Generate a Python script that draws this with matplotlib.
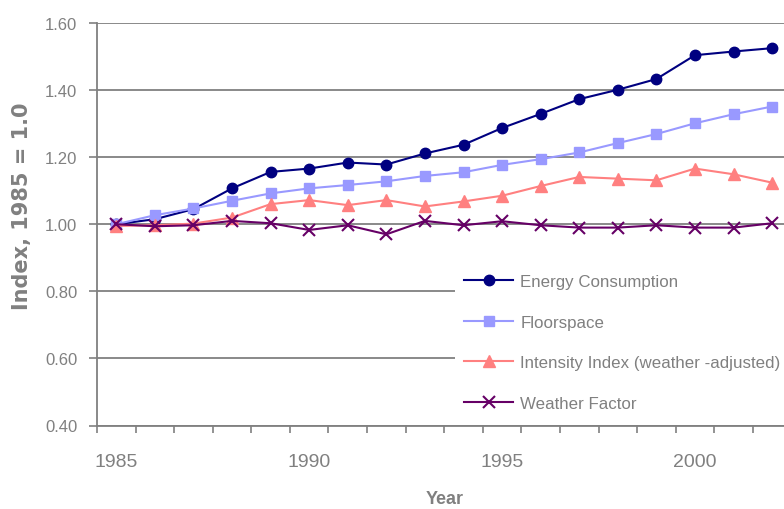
import numpy as np
import matplotlib
matplotlib.use("Agg")
import matplotlib.pyplot as plt

years = list(range(1985, 2003))

energy = [1.000, 1.015, 1.045, 1.107, 1.156, 1.166, 1.184, 1.178, 1.211, 1.237,
          1.287, 1.329, 1.373, 1.401, 1.433, 1.504, 1.515, 1.525]
floorspace = [1.000, 1.027, 1.047, 1.070, 1.092, 1.107, 1.117, 1.128, 1.144, 1.155,
              1.177, 1.194, 1.214, 1.242, 1.269, 1.301, 1.328, 1.351]
intensity = [0.995, 0.997, 1.002, 1.020, 1.060, 1.072, 1.057, 1.072, 1.053, 1.068,
             1.085, 1.114, 1.141, 1.136, 1.131, 1.166, 1.149, 1.124]
weather = [1.000, 0.994, 0.997, 1.010, 1.003, 0.983, 0.997, 0.970, 1.010, 0.997,
           1.009, 0.997, 0.990, 0.990, 0.997, 0.990, 0.990, 1.003]

y_ticks = [0.40, 0.60, 0.80, 1.00, 1.20, 1.40, 1.60]
x_labels = [1985, 1990, 1995, 2000]

GRAY = "#808080"
plt.rcParams["font.family"] = ["Liberation Sans", "DejaVu Sans"]

W, H = 784, 510
fig = plt.figure(figsize=(W / 100, H / 100), dpi=100)

# axes runs past the right edge of the picture (the reference is cropped)
left_px, right_px, top_px, bottom_px = 97, 830, 24, 426.5
ax = fig.add_axes([left_px / W, 1 - bottom_px / H,
                   (right_px - left_px) / W, (bottom_px - top_px) / H])

ax.plot(years, energy, color="#000080", lw=1.5, marker="o", ms=7.5,
        label="Energy Consumption")
ax.plot(years, floorspace, color="#9999FF", lw=1.5, marker="s", ms=6.5,
        label="Floorspace")
ax.plot(years, intensity, color="#FF8080", lw=1.5, marker="^", ms=8,
        label="Intensity Index (weather -adjusted)")
ax.plot(years, weather, color="#660066", lw=1.5, marker="x", ms=8, mew=1.5,
        label="Weather Factor")

ax.set_xlim(1984.5, 2003.5)
ax.set_ylim(0.40, 1.60)

ax.set_yticks(y_ticks)
ax.set_yticklabels([f"{v:.2f}" for v in y_ticks])
ax.yaxis.grid(True, color=GRAY, lw=1.3)
ax.set_axisbelow(True)

# category-style x axis: ticks between years, labels centred on years
ax.set_xticks(np.arange(1984.5, 2004, 1.0))
ax.set_xticklabels([])
ax.set_xticks(x_labels, [str(y) for y in x_labels], minor=True)
ax.tick_params(axis="x", which="major", direction="out", length=5, width=1.2,
               color=GRAY)
ax.tick_params(axis="x", which="minor", length=0, pad=20, labelsize=14,
               labelcolor=GRAY)
ax.tick_params(axis="y", direction="out", length=5.8, width=1.2, color=GRAY,
               pad=8.5, labelsize=12, labelcolor=GRAY)

for side in ["top", "right"]:
    ax.spines[side].set_visible(False)
for side in ["left", "bottom"]:
    ax.spines[side].set_color(GRAY)
    ax.spines[side].set_linewidth(1.3)

fig.text(22 / W, 1 - 206 / H, "Index, 1985 = 1.0", rotation=90, ha="center",
         va="center", color=GRAY, fontsize=15, fontweight="bold",
         family="DejaVu Sans")
fig.text(445 / W, 1 - 500 / H, "Year", ha="center", va="center", color=GRAY,
         fontsize=13, fontweight="bold")

leg = ax.legend(loc="upper left", bbox_to_anchor=(455 / W, 1 - 266 / H),
                bbox_transform=fig.transFigure, borderaxespad=0, frameon=True,
                fancybox=False, edgecolor="none", facecolor="white", framealpha=1,
                fontsize=12.2, borderpad=0.55, handlelength=2.9,
                handletextpad=0.4, labelspacing=1.5, numpoints=1)
for t in leg.get_texts():
    t.set_color(GRAY)

fig.savefig("out.png", dpi=100)
